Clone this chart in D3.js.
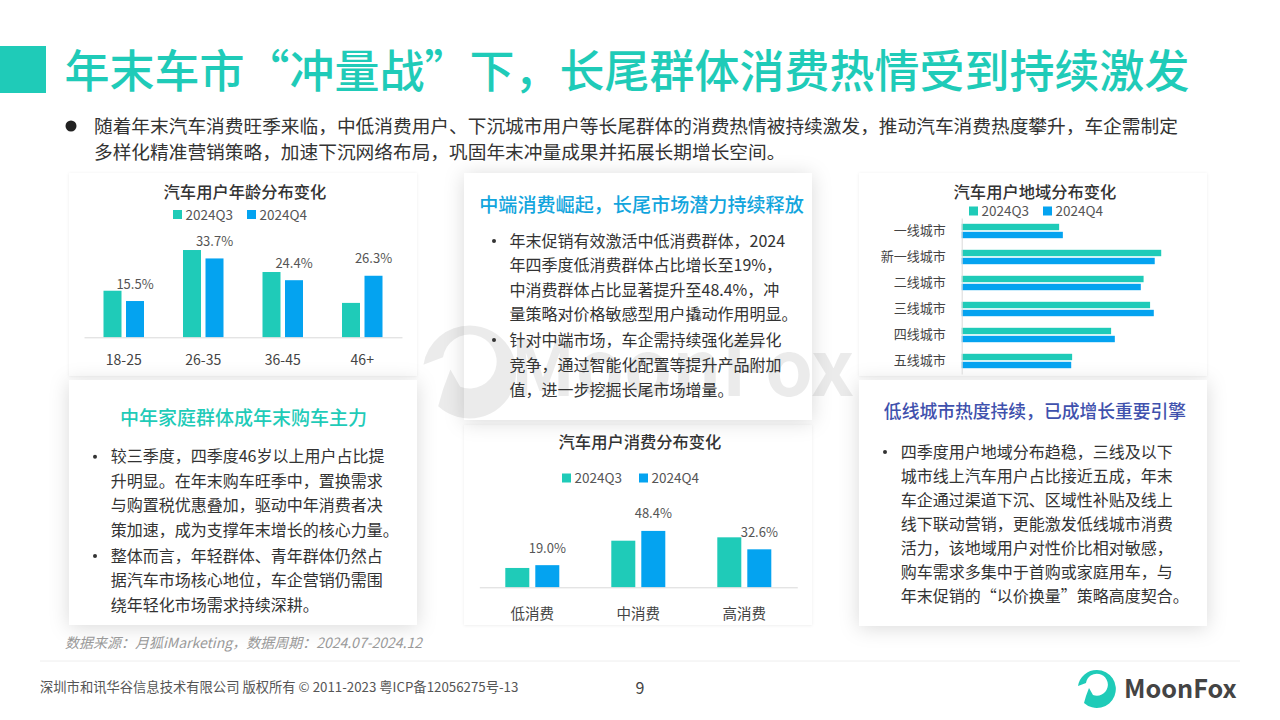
<!DOCTYPE html>
<html lang="zh-CN">
<head>
<meta charset="utf-8">
<script src="https://cdn.jsdelivr.net/npm/d3@7/dist/d3.min.js"></script>
<style>
html,body{margin:0;padding:0;background:#fff;overflow:hidden}
svg{display:block}
text{font-family:"Noto Sans CJK SC","Noto Sans",sans-serif}
</style>
</head>
<body>
<script>
const seriesNames = ["2024Q3", "2024Q4"];
const ageCategories = ["18-25", "26-35", "36-45", "46+"];
const ageQ3 = [19.9, 37.3, 27.9, 14.7];
const ageQ4 = [15.5, 33.7, 24.4, 26.3];
const regionCategories = ["一线城市", "新一线城市", "二线城市", "三线城市", "四线城市", "五线城市"];
const regionQ3 = [10.5, 21.5, 19.6, 20.3, 16.1, 11.9];
const regionQ4 = [10.9, 20.8, 19.3, 20.7, 16.5, 11.8];
const spendCategories = ["低消费", "中消费", "高消费"];
const spendQ3 = [16.6, 40.0, 42.9];
const spendQ4 = [19.0, 48.4, 32.6];

const titleText = "年末车市“冲量战”下，长尾群体消费热情受到持续激发";
const introLines = [
  "随着年末汽车消费旺季来临，中低消费用户、下沉城市用户等长尾群体的消费热情被持续激发，推动汽车消费热度攀升，车企需制定",
  "多样化精准营销策略，加速下沉网络布局，巩固年末冲量成果并拓展长期增长空间。"
];
const leftHeading = "中年家庭群体成年末购车主力";
const leftBullets = [
  ["较三季度，四季度46岁以上用户占比提", "升明显。在年末购车旺季中，置换需求", "与购置税优惠叠加，驱动中年消费者决", "策加速，成为支撑年末增长的核心力量。"],
  ["整体而言，年轻群体、青年群体仍然占", "据汽车市场核心地位，车企营销仍需围", "绕年轻化市场需求持续深耕。"]
];
const midHeading = "中端消费崛起，长尾市场潜力持续释放";
const midBullets = [
  ["年末促销有效激活中低消费群体，2024", "年四季度低消费群体占比增长至19%，", "中消费群体占比显著提升至48.4%，冲", "量策略对价格敏感型用户撬动作用明显。"],
  ["针对中端市场，车企需持续强化差异化", "竞争，通过智能化配置等提升产品附加", "值，进一步挖掘长尾市场增量。"]
];
const rightHeading = "低线城市热度持续，已成增长重要引擎";
const rightBullets = [
  ["四季度用户地域分布趋稳，三线及以下", "城市线上汽车用户占比接近五成，年末", "车企通过渠道下沉、区域性补贴及线上", "线下联动营销，更能激发低线城市消费", "活力，该地域用户对性价比相对敏感，", "购车需求多集中于首购或家庭用车，与", "年末促销的“以价换量”策略高度契合。"]
];
const sourceText = "数据来源：月狐iMarketing，数据周期：2024.07-2024.12";
const footerText = "深圳市和讯华谷信息技术有限公司 版权所有 © 2011-2023 粤ICP备12056275号-13";

const TEAL = "#1fcbb8", BLUE = "#04a3f0";
const svg = d3.select("body").append("svg").attr("width", 1280).attr("height", 720);
const defs = svg.append("defs");
const sh = (id, dy, blur, op) => defs.append("filter").attr("id", id)
  .attr("x", "-20%").attr("y", "-20%").attr("width", "140%").attr("height", "140%")
  .append("feDropShadow").attr("dx", 0).attr("dy", dy).attr("stdDeviation", blur)
  .attr("flood-color", "#000").attr("flood-opacity", op);
sh("soft", 0.5, 1.5, 0.08);
sh("big", 2, 10, 0.15);

svg.append("rect").attr("width", 1280).attr("height", 720).attr("fill", "#fff");

// Cards
const cards = [
  [69, 173, 348, 203, "soft"], [859, 173, 348, 203, "soft"],
  [464, 425, 348, 200, "soft"],
  [464, 173, 348, 247, "big"], [69, 380, 348, 245, "big"], [859, 380, 348, 246, "big"]
];
svg.selectAll("rect.card").data(cards).join("rect").attr("class", "card")
  .attr("x", d => d[0]).attr("y", d => d[1]).attr("width", d => d[2]).attr("height", d => d[3])
  .attr("fill", "#fff").attr("filter", d => `url(#${d[4]})`);

// Logo glyph: ring opening into a speech-bubble tail at lower left
const logoPath = "M0,-19 A19,19 0 1 1 -13,14 L-11,7 L-8,-1 L-4,6 A11,11 0 1 0 -11,-6 L-19,-3 A19,19 0 0 1 0,-19 Z";

// Watermark
const wm = svg.append("g").attr("opacity", 0.075);
wm.append("path").attr("transform", "translate(470,372) scale(2.45)").attr("d", logoPath).attr("fill", "#000");
wm.append("text").attr("x", 510).attr("y", 396).attr("font-size", 77).attr("font-weight", 700)
  .attr("font-family", "'Noto Sans','Open Sans',sans-serif").attr("fill", "#000").text("MoonFox");

// Header
svg.append("rect").attr("x", 0).attr("y", 46).attr("width", 46).attr("height", 47).attr("fill", TEAL);
svg.append("text").attr("x", 64.5).attr("y", 88).attr("font-size", 45).attr("font-weight", 500)
  .attr("fill", TEAL).text(titleText);
svg.append("circle").attr("cx", 71).attr("cy", 126).attr("r", 5.5).attr("fill", "#222");
svg.selectAll("text.intro").data(introLines).join("text").attr("class", "intro")
  .attr("x", 94).attr("y", (d, i) => 133 + i * 26).attr("font-size", 18.7).attr("fill", "#333").text(d => d);

// Chart helpers
function heading(x, y, t) {
  svg.append("text").attr("x", x).attr("y", y + 6).attr("text-anchor", "middle")
    .attr("font-size", 16.3).attr("font-weight", 500).attr("fill", "#333").text(t);
}
function legend(xs, y) {
  seriesNames.forEach((n, i) => {
    svg.append("rect").attr("x", xs[i]).attr("y", y - 4.5).attr("width", 9).attr("height", 9)
      .attr("fill", i ? BLUE : TEAL);
    svg.append("text").attr("x", xs[i] + 12.5).attr("y", y + 5).attr("font-size", 13.5)
      .attr("fill", "#555").text(n);
  });
}
function columns(cats, a, b, cfg) {
  const x = d3.scaleBand().domain(cats).range(cfg.xr);
  const y = d3.scaleLinear().domain([0, cfg.max]).range([cfg.base, cfg.base - cfg.max * cfg.pp]);
  const inner = d3.scaleBand().domain(seriesNames)
    .range([-cfg.bw - cfg.gap / 2, cfg.bw + cfg.gap / 2])
    .paddingInner(cfg.gap / (cfg.bw + cfg.gap));
  const g = svg.append("g");
  [a, b].forEach((vals, si) => {
    g.selectAll(null).data(vals).join("rect")
      .attr("x", (d, i) => x(cats[i]) + x.bandwidth() / 2 + inner(seriesNames[si]))
      .attr("y", d => y(d)).attr("width", inner.bandwidth()).attr("height", d => cfg.base - y(d))
      .attr("fill", si ? BLUE : TEAL);
  });
  g.selectAll(null).data(b).join("text")
    .attr("x", (d, i) => x(cats[i]) + x.bandwidth() / 2 + inner(seriesNames[1]) + inner.bandwidth() / 2)
    .attr("y", d => y(d) - 12.5).attr("text-anchor", "middle").attr("font-size", 13).attr("fill", "#555")
    .text(d => d.toFixed(1) + "%");
  const ax = g.append("g").attr("transform", `translate(0,${cfg.base})`)
    .call(d3.axisBottom(x).tickSize(0).tickPadding(cfg.tp));
  ax.select(".domain").attr("stroke", "#d9d9d9").attr("stroke-width", 1);
  ax.selectAll("text").attr("font-size", cfg.tf).attr("font-family", '"Noto Sans CJK SC"').attr("fill", "#444");
}
// Age chart
heading(245, 191.5, "汽车用户年龄分布变化");
legend([173, 247], 214.5);
columns(ageCategories, ageQ3, ageQ4, { xr: [84, 402], base: 337.3, pp: 2.34, max: 40, bw: 18, gap: 4.5, tp: 18, tf: 14 });
// Spend chart
heading(640, 441.5, "汽车用户消费分布变化");
legend([562, 639], 478);
columns(spendCategories, spendQ3, spendQ4, { xr: [479.3, 797.3], base: 587.3, pp: 1.165, max: 55, bw: 24, gap: 6, tp: 21, tf: 14.5 });
// Region chart
heading(1035, 191.5, "汽车用户地域分布变化");
legend([969, 1043], 211);
(function () {
  const y = d3.scaleBand().domain(regionCategories).range([218, 374]);
  const x = d3.scaleLinear().domain([0, 25]).range([961.7, 961.7 + 232]);
  const inner = d3.scaleBand().domain(seriesNames).range([0, 14.4]).paddingInner(0.2);
  const g = svg.append("g");
  [regionQ3, regionQ4].forEach((vals, si) => {
    g.selectAll(null).data(vals).join("rect")
      .attr("x", x(0))
      .attr("y", (d, i) => y(regionCategories[i]) + y.bandwidth() / 2 - 7.2 + inner(seriesNames[si]))
      .attr("width", d => x(d) - x(0)).attr("height", inner.bandwidth()).attr("fill", si ? BLUE : TEAL);
  });
  const ax = g.append("g").attr("transform", `translate(${x(0)},0)`)
    .call(d3.axisLeft(y).tickSize(0).tickPadding(16));
  ax.select(".domain").attr("stroke", "#d9d9d9");
  ax.selectAll("text").attr("font-size", 13).attr("font-family", '"Noto Sans CJK SC"').attr("fill", "#444");
})();

// Text panels
function panel(head, hx, hy, hsize, hcol, bullets, tx, bx, ys) {
  svg.append("text").attr("x", hx).attr("y", hy + hsize * 0.36).attr("text-anchor", "middle")
    .attr("font-size", hsize).attr("font-weight", 500).attr("fill", hcol).text(head);
  let k = 0;
  bullets.forEach(lines => {
    svg.append("circle").attr("cx", bx).attr("cy", ys[k]).attr("r", 2).attr("fill", "#333");
    lines.forEach(l => {
      svg.append("text").attr("x", tx).attr("y", ys[k] + 5.7).attr("font-size", 16).attr("fill", "#333").text(l);
      k++;
    });
  });
}
panel(leftHeading, 243.5, 418.5, 19, TEAL, leftBullets, 110.7, 95, [456.7, 481, 505.5, 530, 556, 580.5, 605]);
panel(midHeading, 641.5, 205.5, 19.1, "#12a5dd", midBullets, 509.5, 494, [241, 265.5, 290, 314.5, 340, 365, 390]);
panel(rightHeading, 1035, 412, 17.8, "#3f51ad", rightBullets, 900.7, 885, [452, 476.5, 500.5, 524.5, 548.5, 572.5, 596.5]);

// Footer
svg.append("text").attr("x", 65).attr("y", 648).attr("font-size", 14).attr("font-style", "italic")
  .attr("fill", "#999").text(sourceText);
svg.append("line").attr("x1", 40).attr("x2", 1240).attr("y1", 661).attr("y2", 661).attr("stroke", "#eeeeee");
svg.append("text").attr("x", 40).attr("y", 691.5).attr("font-size", 13.3).attr("fill", "#555").text(footerText);
svg.append("text").attr("x", 640).attr("y", 694).attr("text-anchor", "middle").attr("font-size", 16).attr("fill", "#444").text("9");
svg.append("path").attr("transform", "translate(1097,689)").attr("d", logoPath).attr("fill", TEAL);
svg.append("text").attr("x", 1124).attr("y", 698).attr("font-size", 25.2).attr("font-weight", 700)
  .attr("font-family", "'Noto Sans','Open Sans',sans-serif").attr("fill", "#444").text("MoonFox");
</script>
</body>
</html>
